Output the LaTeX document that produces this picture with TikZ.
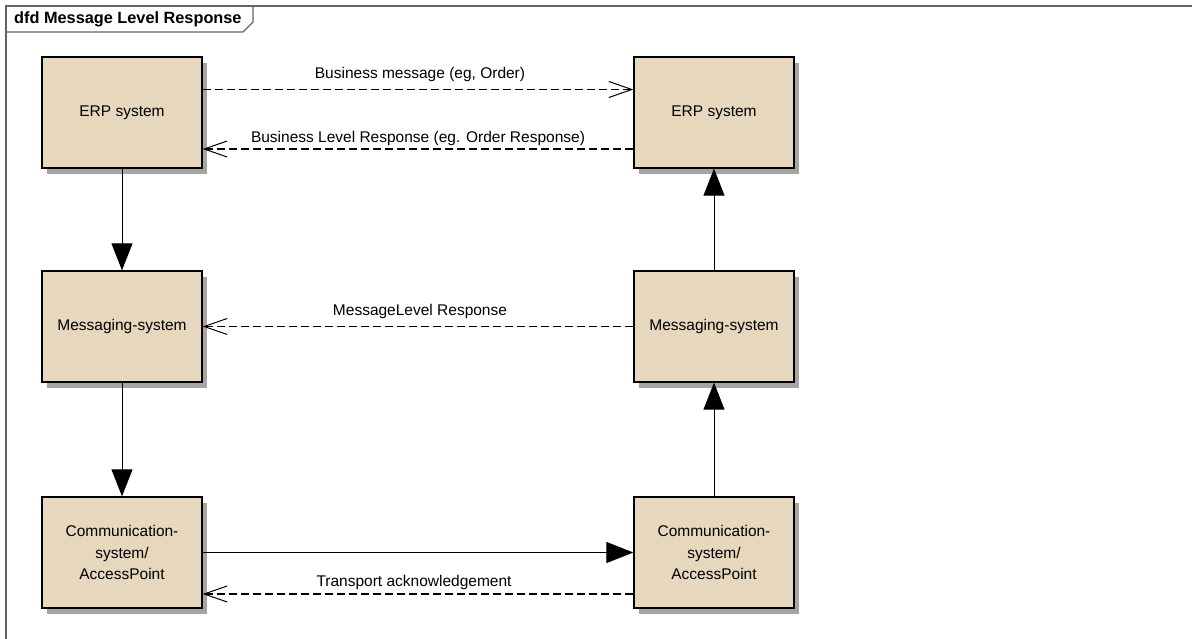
\documentclass[tikz,border=0pt]{standalone}
\usepackage{fontspec}
\setmainfont{Liberation Sans}
\usetikzlibrary{arrows.meta,shadows}
\definecolor{boxfill}{RGB}{230,215,189}
\definecolor{shadowgray}{RGB}{165,165,165}
\definecolor{framegray}{RGB}{100,100,100}
\begin{document}
\begin{tikzpicture}[x=1pt,y=-1pt,
  every node/.style={font=\fontsize{15.5}{21.5}\selectfont},
  procbox/.style={draw=black, line width=1.3pt, fill=boxfill, minimum width=160pt, minimum height=111pt, inner sep=0pt, align=center,
    drop shadow={shadow xshift=5pt, shadow yshift=-6pt, fill=shadowgray, opacity=1}},
  flow/.style={line width=1pt, -{Triangle[length=27pt,width=21pt]}},
  reply/.style={line width=1.1pt, dash pattern=on 8pt off 4pt, -{Straight Barb[length=23pt,width=16pt,line width=1pt]}},
  lab/.style={inner sep=0pt},
  framestyle/.style={draw=framegray, line width=1.2pt}
]
\useasboundingbox (0,0) rectangle (1192,639);
% frame
\draw[framestyle] (6,639) -- (6,6) -- (1192,6);
\draw[framestyle] (6,32) -- (243,32) -- (253,22) -- (253,6);
\node[anchor=west, inner sep=0pt, font=\fontsize{16.3}{18}\selectfont\bfseries] (title) at (14,19.5) {dfd Message Level Response};

% boxes
\node[procbox] (erpL) at (122,112.5) {ERP system};
\node[procbox] (erpR) at (714,112.5) {ERP system};
\node[procbox] (msgL) at (122,326.5) {Messaging-system};
\node[procbox] (msgR) at (714,326.5) {Messaging-system};
\node[procbox] (comL) at (122,552.5) {Communication-\\system/\\AccessPoint};
\node[procbox] (comR) at (714,552.5) {Communication-\\system/\\AccessPoint};

% solid flows
\draw[flow] (erpL) -- (msgL);
\draw[flow] (msgL) -- (comL);
\draw[flow] (comR) -- (msgR);
\draw[flow] (msgR) -- (erpR);
\draw[flow] (comL) -- (comR);

% dashed replies
\draw[reply] ([yshift=23pt]erpL.east) -- ([yshift=23pt]erpR.west);
\draw[reply] ([yshift=-36.5pt]erpR.west) -- ([yshift=-36.5pt]erpL.east);
\draw[reply] (msgR.west) -- (msgL.east);
\draw[reply] ([yshift=-41.5pt]comR.west) -- ([yshift=-41.5pt]comL.east);

% labels
\node[lab] (l1) at (420,74) {Business message (eg, Order)};
\node[lab] (l2) at (418,138) {Business Level Response (eg. Order Response)};
\node[lab] (l3) at (420,311) {MessageLevel Response};
\node[lab] (l4) at (414,582) {Transport acknowledgement};
\end{tikzpicture}
\end{document}
